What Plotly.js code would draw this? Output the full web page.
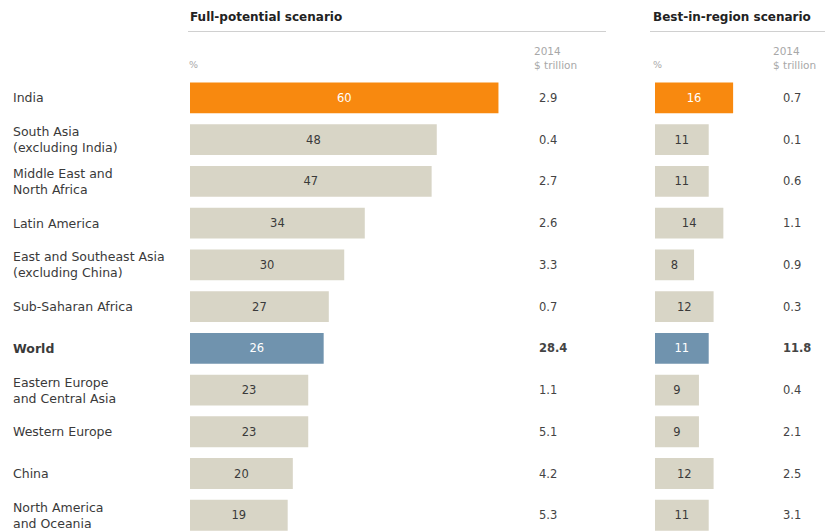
<!DOCTYPE html>
<html>
<head>
<meta charset="utf-8">
<script src="https://cdn.plot.ly/plotly-3.0.1.min.js"></script>
<style>html,body{margin:0;padding:0;background:#fff;}#chart{width:825px;height:532px;}</style>
</head>
<body>
<div id="chart"></div>
<script>
var regions = ["India", "South Asia<br>(excluding India)", "Middle East and<br>North Africa", "Latin America",
  "East and Southeast Asia<br>(excluding China)", "Sub-Saharan Africa", "World",
  "Eastern Europe<br>and Central Asia", "Western Europe", "China", "North America<br>and Oceania"];
var fullPct = [60, 48, 47, 34, 30, 27, 26, 23, 23, 20, 19];
var fullGdp = ["2.9", "0.4", "2.7", "2.6", "3.3", "0.7", "28.4", "1.1", "5.1", "4.2", "5.3"];
var bestPct = [16, 11, 11, 14, 8, 12, 11, 9, 9, 12, 11];
var bestGdp = ["0.7", "0.1", "0.6", "1.1", "0.9", "0.3", "11.8", "0.4", "2.1", "2.5", "3.1"];

var FONT = "DejaVu Sans, Liberation Sans, Arial, sans-serif";
var W = 825, H = 532, TOP = 77;
function py(p){ return 1 - (p - TOP) / (H - TOP); }
function barColor(r){ return r === "India" ? "#f8890f" : (r === "World" ? "#7093ae" : "#d8d5c6"); }
function txtColor(r){ return (r === "India" || r === "World") ? "#ffffff" : "#3a3a3a"; }

var traces = [
  {type: "bar", orientation: "h", y: regions, x: fullPct, xaxis: "x", yaxis: "y",
   marker: {color: regions.map(barColor)}, width: 0.74,
   text: fullPct.map(String), textposition: "inside", insidetextanchor: "middle", constraintext: "none",
   textfont: {family: FONT, size: 11.5, color: regions.map(txtColor)}, hoverinfo: "none", cliponaxis: false},
  {type: "bar", orientation: "h", y: regions, x: bestPct, xaxis: "x2", yaxis: "y",
   marker: {color: regions.map(barColor)}, width: 0.74,
   text: bestPct.map(String), textposition: "inside", insidetextanchor: "middle", constraintext: "none",
   textfont: {family: FONT, size: 11.5, color: regions.map(txtColor)}, hoverinfo: "none", cliponaxis: false}
];

var ann = [];
regions.forEach(function(r, i){
  var bold = r === "World";
  ann.push({xref: "paper", yref: "y", x: 11 / W, y: r, xanchor: "left", yanchor: "middle", align: "left",
    text: bold ? "<b>" + r + "</b>" : r, showarrow: false, font: {family: FONT, size: 12.5, color: "#3a3a3a"}});
  ann.push({xref: "paper", yref: "y", x: 537 / W, y: r, xanchor: "left", yanchor: "middle",
    text: bold ? "<b>" + fullGdp[i] + "</b>" : fullGdp[i], showarrow: false, font: {family: FONT, size: 11.5, color: "#444"}});
  ann.push({xref: "paper", yref: "y", x: 781 / W, y: r, xanchor: "left", yanchor: "middle",
    text: bold ? "<b>" + bestGdp[i] + "</b>" : bestGdp[i], showarrow: false, font: {family: FONT, size: 11.5, color: "#444"}});
});
// headers
ann.push({xref: "paper", yref: "paper", x: 188 / W, y: py(17), xanchor: "left", yanchor: "middle",
  text: "<b>Full-potential scenario</b>", showarrow: false, font: {family: FONT, size: 12, color: "#222"}});
ann.push({xref: "paper", yref: "paper", x: 651 / W, y: py(17), xanchor: "left", yanchor: "middle",
  text: "<b>Best-in-region scenario</b>", showarrow: false, font: {family: FONT, size: 12, color: "#222"}});
ann.push({xref: "paper", yref: "paper", x: 187 / W, y: py(64), xanchor: "left", yanchor: "middle",
  text: "%", showarrow: false, font: {family: FONT, size: 9.5, color: "#aaa"}});
ann.push({xref: "paper", yref: "paper", x: 651 / W, y: py(64), xanchor: "left", yanchor: "middle",
  text: "%", showarrow: false, font: {family: FONT, size: 9.5, color: "#aaa"}});
ann.push({xref: "paper", yref: "paper", x: 532 / W, y: py(58), xanchor: "left", yanchor: "middle", align: "left",
  text: "2014<br>$ trillion", showarrow: false, font: {family: FONT, size: 10.5, color: "#a8a8a8"}});
ann.push({xref: "paper", yref: "paper", x: 771 / W, y: py(58), xanchor: "left", yanchor: "middle", align: "left",
  text: "2014<br>$ trillion", showarrow: false, font: {family: FONT, size: 10.5, color: "#a8a8a8"}});

var layout = {
  width: W, height: H,
  margin: {l: 0, r: 0, t: TOP, b: 0},
  paper_bgcolor: "#fff", plot_bgcolor: "#fff",
  showlegend: false, bargap: 0.26,
  xaxis: {domain: [190 / W, 500 / W], range: [0, 60.3], visible: false, fixedrange: true},
  xaxis2: {domain: [655 / W, 738 / W], range: [0, 17], visible: false, fixedrange: true},
  yaxis: {type: "category", categoryarray: regions, range: [10.4, -0.5], visible: false, fixedrange: true},
  annotations: ann,
  shapes: [
    {type: "line", xref: "paper", yref: "paper", x0: 188 / W, x1: 606 / W, y0: py(31.5), y1: py(31.5),
     line: {color: "#d0d0d0", width: 1}},
    {type: "line", xref: "paper", yref: "paper", x0: 650 / W, x1: 1, y0: py(31.5), y1: py(31.5),
     line: {color: "#d0d0d0", width: 1}}
  ]
};

Plotly.newPlot("chart", traces, layout, {displayModeBar: false, staticPlot: true});
</script>
</body>
</html>
